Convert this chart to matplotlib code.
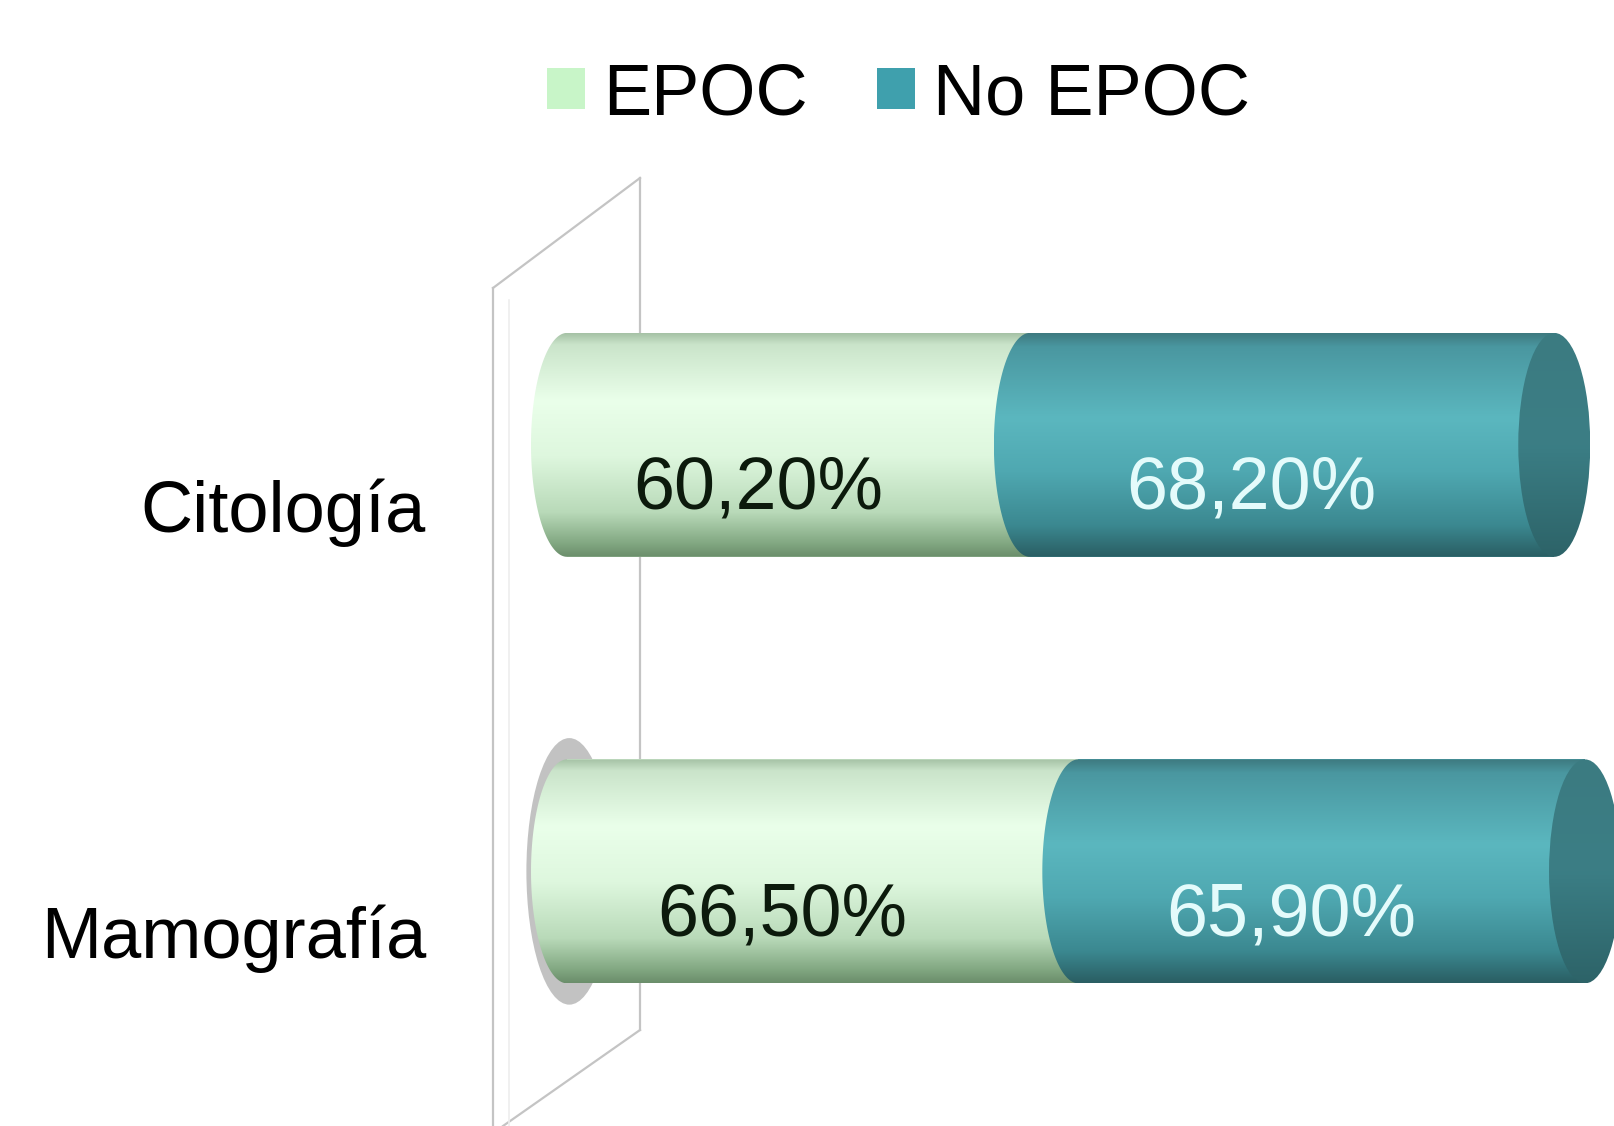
import numpy as np
import matplotlib
matplotlib.use("Agg")
import matplotlib.pyplot as plt
from matplotlib.colors import LinearSegmentedColormap
from matplotlib.patches import Patch, PathPatch, Ellipse
from matplotlib.path import Path
from matplotlib.lines import Line2D

plt.rcParams['font.family'] = ['Liberation Sans', 'DejaVu Sans']

# data
categories = ['Citología', 'Mamografía']
epoc = [60.2, 66.5]
no_epoc = [68.2, 65.9]
epoc_labels = ['60,20%', '66,50%']
no_epoc_labels = ['68,20%', '65,90%']
series_names = ['EPOC', 'No EPOC']

W, H = 1615, 1126
fig = plt.figure(figsize=(W / 100, H / 100), dpi=100)
ax = fig.add_axes([480 / W, 0, 1 - 480 / W, 1])
ax.patch.set_visible(False)

bar_h = 0.525
cap_a = 4.68  # half-width of the end ellipses, in data units

green_cmap = LinearSegmentedColormap.from_list('g', [
    (0.0, '#a6c2a6'), (0.05, '#cae4ca'), (0.3, '#eaffea'), (0.55, '#def7de'),
    (0.8, '#b9dab9'), (0.94, '#82a882'), (1.0, '#6b8e6b')])
teal_cmap = LinearSegmentedColormap.from_list('t', [
    (0.0, '#3e7a80'), (0.06, '#4a97a0'), (0.38, '#5bb7bf'), (0.62, '#4fa8b1'),
    (0.86, '#3b8890'), (1.0, '#2a5e63')])
cap_cmap = LinearSegmentedColormap.from_list('c', [
    (0.0, '#3c7b81'), (0.5, '#3b7e85'), (1.0, '#2d6368')])
grad = np.linspace(0, 1, 256).reshape(-1, 1)


def segment_path(x0, x1, yc, h, a):
    t = np.linspace(np.pi / 2, 3 * np.pi / 2, 80)
    left = np.column_stack([x0 + a * np.cos(t), yc + h / 2 * np.sin(t)])
    right = np.array([[x1, yc - h / 2], [x1, yc + h / 2]])
    verts = np.vstack([left, right, left[:1]])
    codes = [Path.MOVETO] + [Path.LINETO] * (len(verts) - 2) + [Path.CLOSEPOLY]
    return Path(verts, codes)


def shade(path_or_patch, x_lo, x_hi, yc, h, cmap, z):
    if isinstance(path_or_patch, Path):
        patch = PathPatch(path_or_patch, facecolor='none', edgecolor='none')
    else:
        patch = path_or_patch
    ax.add_patch(patch)
    im = ax.imshow(grad, cmap=cmap, extent=[x_lo, x_hi, yc + h / 2, yc - h / 2],
                   origin='upper', aspect='auto', zorder=z, interpolation='bilinear')
    im.set_clip_path(patch)


# stacked bars, base layer
b1 = ax.barh(range(len(categories)), epoc, height=bar_h, color='#d8f5d8', zorder=2)
b2 = ax.barh(range(len(categories)), no_epoc, left=epoc, height=bar_h,
             color='#4fa8b1', zorder=2)

for i, (r1, r2) in enumerate(zip(b1, b2)):
    yc = r1.get_y() + bar_h / 2
    x0 = r1.get_x()
    x1 = x0 + r1.get_width()
    x2 = x1 + r2.get_width()
    if i == 1:
        ax.add_patch(Ellipse((x0 + 0.3, yc), 2 * cap_a + 1.8, bar_h + 0.1,
                             facecolor='#9a9a9a', edgecolor='none', alpha=0.6, zorder=1))
    shade(segment_path(x0, x1, yc, bar_h, cap_a), x0 - cap_a, x1, yc, bar_h, green_cmap, 3)
    shade(segment_path(x1, x2, yc, bar_h, cap_a), x1 - cap_a, x2, yc, bar_h, teal_cmap, 4)
    cap = Ellipse((x2, yc), 2 * cap_a, bar_h, facecolor='none', edgecolor='none')
    shade(cap, x2 - cap_a, x2 + cap_a, yc, bar_h, cap_cmap, 5)

    ax.annotate(epoc_labels[i], xy=((x0 + x1) / 2, yc), xytext=(-29, -46),
                textcoords='offset points', ha='center', va='baseline',
                fontsize=53, color='#0c1a0c', zorder=6)
    ax.annotate(no_epoc_labels[i], xy=((x1 + x2) / 2, yc), xytext=(-29, -46),
                textcoords='offset points', ha='center', va='baseline',
                fontsize=53, color='#e4fbfb', zorder=6)
    ax.annotate(categories[i], xy=(0, yc), xytext=(-101.5, -62.5),
                textcoords='offset points', ha='right', va='baseline',
                fontsize=52, color='black', annotation_clip=False)

# 7.69 px per unit, value 0 at x = 567 px
ax.set_xlim(-(567 - 480) / 7.69, 136.3)
ax.set_ylim(1.597, -1.043)
ax.axis('off')

# back wall of the 3D plot
def px(x, y):
    return x / W, 1 - y / H

wall = [((640, 178), (640, 1030)), ((493, 288), (640, 178)),
        ((493, 288), (493, 1126)), ((640, 1030), (503, 1126))]
for (xa, ya), (xb, yb) in wall:
    (fx0, fy0), (fx1, fy1) = px(xa, ya), px(xb, yb)
    fig.add_artist(Line2D([fx0, fx1], [fy0, fy1], color='#c4c4c4', lw=1.6, zorder=-1))
(fx0, fy0), (fx1, fy1) = px(509, 300), px(509, 1126)
fig.add_artist(Line2D([fx0, fx1], [fy0, fy1], color='#eeeeee', lw=1.2, zorder=-1))

handles = [Patch(facecolor='#c8f5c8', edgecolor='none'),
           Patch(facecolor='#3fa0ad', edgecolor='none')]
fig.legend(handles, series_names, loc='center left', bbox_to_anchor=(547 / W, 1 - 96 / H),
           ncol=2, frameon=False, fontsize=52, handlelength=0.53, handleheight=0.5,
           handletextpad=0.25, columnspacing=0.95, borderpad=0, borderaxespad=0)

fig.savefig('out.png', dpi=100, facecolor='white')
